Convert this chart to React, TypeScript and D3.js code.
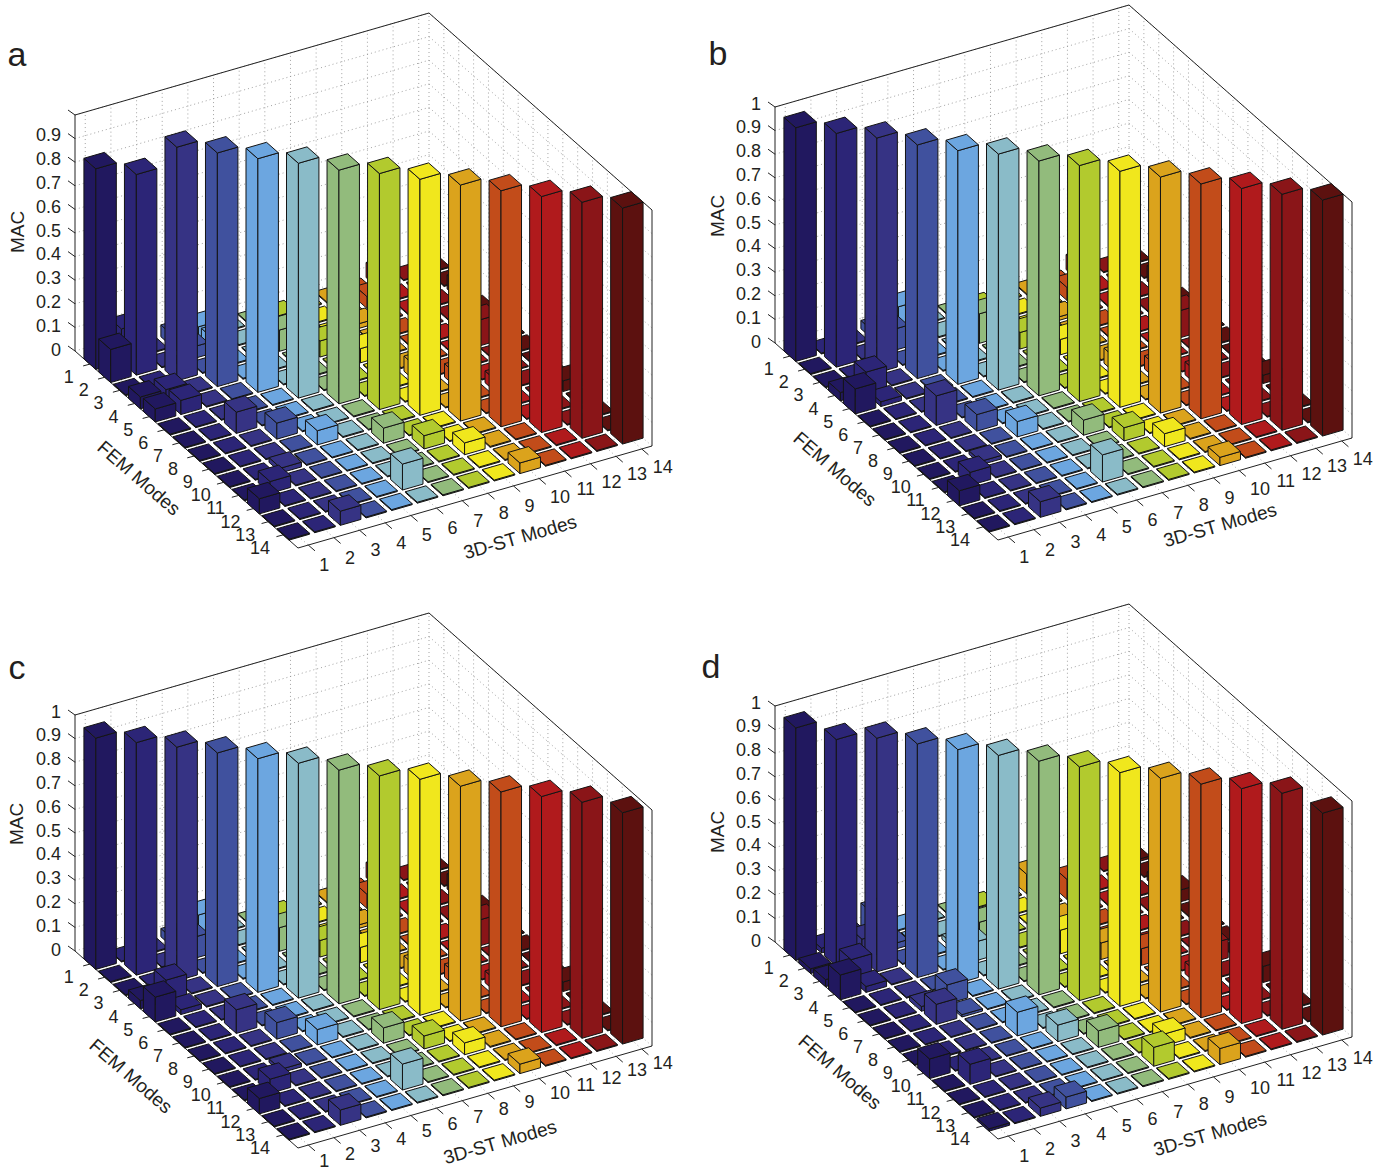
import * as d3 from 'd3';

const modes = d3.range(1, 15);
const macTicks = d3.range(0, 11).map((d) => d / 10);
const modeColours = ['#21185f', '#2c2577', '#363384', '#40519e', '#6ca6e0', '#8abbc8', '#92bb7c', '#b2ca2e', '#f0e71d', '#dba31c', '#c24c1a', '#b01a1c', '#8a1518', '#5c110f'];

// diagonal MAC values, 3D-ST mode 1..14
const diagA = [0.85, 0.85, 0.99, 0.99, 0.99, 0.995, 0.99, 1, 1, 1, 1, 1, 1, 1];
const diagB = [0.99, 0.99, 0.995, 0.99, 0.99, 1, 0.995, 1, 1, 1, 0.995, 1, 1, 1];
const diagC = [0.98, 0.985, 0.99, 0.99, 0.99, 0.995, 0.99, 0.99, 1, 0.995, 0.995, 1, 1, 0.98];
const diagD = [0.985, 0.96, 0.99, 0.99, 0.99, 0.99, 0.99, 0.99, 0.99, 0.99, 0.99, 0.995, 1, 0.94];

// off-diagonal values that stand out: [3D-ST mode, FEM mode, MAC]
const raisedA = [[1, 2, 0.14], [1, 4, 0.05], [1, 5, 0.055], [2, 4, 0.05], [2, 5, 0.06], [3, 7, 0.09], [4, 8, 0.068], [5, 9, 0.06], [7, 10, 0.064], [6, 13, 0.11], [2, 11, 0.05], [1, 12, 0.064], [3, 14, 0.06], [3, 10, 0.02], [8, 11, 0.056], [9, 12, 0.05], [10, 14, 0.045]];
const raisedB = [[1, 4, 0.035], [1, 5, 0.106], [2, 4, 0.09], [2, 5, 0.02], [3, 7, 0.125], [4, 8, 0.07], [5, 9, 0.065], [7, 10, 0.064], [6, 13, 0.115], [3, 10, 0.015], [2, 11, 0.055], [1, 12, 0.064], [3, 14, 0.066], [8, 11, 0.056], [9, 12, 0.055], [10, 14, 0.035]];
const raisedC = [[1, 4, 0.035], [1, 5, 0.105], [2, 4, 0.09], [2, 5, 0.02], [3, 7, 0.1], [4, 8, 0.07], [5, 9, 0.065], [7, 10, 0.065], [6, 13, 0.11], [2, 11, 0.06], [1, 12, 0.065], [3, 14, 0.065], [3, 10, 0.015], [8, 11, 0.055], [9, 12, 0.05], [10, 14, 0.04]];
const raisedD = [[1, 2, 0.02], [1, 3, 0.03], [1, 4, 0.105], [2, 3, 0.083], [2, 4, 0.025], [3, 6, 0.02], [3, 7, 0.085], [4, 6, 0.08], [4, 7, 0.01], [5, 9, 0.1], [6, 10, 0.07], [7, 11, 0.07], [1, 10, 0.083], [2, 11, 0.085], [3, 14, 0.035], [4, 14, 0.05], [1, 14, 0.01], [8, 13, 0.08], [9, 12, 0.05], [10, 14, 0.068]];

const floorValue = 0.004;

const panels = [
  { name: 'a', dx: 0, dy: 0, diag: diagA, raised: raisedA, topTick: 0.9, stDy: 0, letter: [17, 54], mac: [17, 232], fem: [139, 478], st: [520, 537] },
  { name: 'b', dx: 700, dy: -8, diag: diagB, raised: raisedB, topTick: 1, stDy: 0, letter: [718, 53], mac: [717, 216], fem: [835, 469], st: [1220, 525] },
  { name: 'c', dx: 0, dy: 600, diag: diagC, raised: raisedC, topTick: 1, stDy: -4, letter: [17, 667], mac: [16, 824], fem: [131, 1076], st: [500, 1142] },
  { name: 'd', dx: 700, dy: 591, diag: diagD, raised: raisedD, topTick: 1, stDy: 0, letter: [711, 666], mac: [717, 832], fem: [840, 1072], st: [1210, 1134] },
];

const font = '"Liberation Sans", Arial, sans-serif';
const ink = '#231f20';
const halfBar = 0.4;

const colour = d3.scaleOrdinal<number, string>().domain(modes).range(modeColours);
const sx = d3.scaleLinear().domain([0.6, 14.4]).range([0, 1]);
const sy = d3.scaleLinear().domain([0, 15]).range([0, 1]);
const sz = d3.scaleLinear().domain([0, 1]).range([0, 236]);

function project(c: number, r: number, z: number, p: { dx: number; dy: number }): [number, number] {
  return [
    75 + p.dx + sx(c) * 354 + sy(r) * 223,
    351 + p.dy - sx(c) * 102 + sy(r) * 197 - sz(z),
  ];
}

const line = d3.line();

function Bar({ c, r, h, p }: any) {
  const l = c - halfBar;
  const n = c + halfBar;
  const b = r - halfBar;
  const f = r + halfBar;
  const faces = [
    [[l, b, 0], [l, f, 0], [l, f, h], [l, b, h]],
    [[l, f, 0], [n, f, 0], [n, f, h], [l, f, h]],
    [[l, b, h], [l, f, h], [n, f, h], [n, b, h]],
  ];
  return (
    <g fill={colour(c)} stroke="#141414" strokeWidth={1} strokeLinejoin="round">
      {faces.map((face, i) => (
        <path key={i} d={`${line(face.map((q) => project(q[0], q[1], q[2], p)))}Z`} />
      ))}
    </g>
  );
}

function Panel({ p }: any) {
  const values = new Map<string, number>();
  p.raised.forEach(([c, r, h]: number[]) => {
    values.set(`${c}-${r}`, h);
    values.set(`${r}-${c}`, h);
  });
  p.diag.forEach((h: number, i: number) => values.set(`${i + 1}-${i + 1}`, h));

  const seg = (a: [number, number], b: [number, number]) => ({ x1: a[0], y1: a[1], x2: b[0], y2: b[1] });
  const xLo = 0.6;
  const xHi = 14.4;
  const yLo = 0;
  const yHi = 15;

  const gridLines = [
    ...macTicks.map((t) => seg(project(xLo, yLo, t, p), project(xHi, yLo, t, p))),
    ...macTicks.map((t) => seg(project(xHi, yLo, t, p), project(xHi, yHi, t, p))),
    ...modes.map((m) => seg(project(m, yLo, 0, p), project(m, yLo, 1, p))),
    ...modes.map((m) => seg(project(xHi, m, 0, p), project(xHi, m, 1, p))),
    ...modes.map((m) => seg(project(m, yLo, 0, p), project(m, yHi, 0, p))),
    ...modes.map((m) => seg(project(xLo, m, 0, p), project(xHi, m, 0, p))),
    seg(project(xHi, yLo, 0, p), project(xHi, yLo, 1, p)),
  ];

  const boxLines = [
    seg(project(xLo, yLo, 0, p), project(xLo, yLo, 1, p)),
    seg(project(xLo, yLo, 1, p), project(xHi, yLo, 1, p)),
    seg(project(xHi, yLo, 1, p), project(xHi, yHi, 1, p)),
    seg(project(xHi, yHi, 1, p), project(xHi, yHi, 0, p)),
    seg(project(xLo, yLo, 0, p), project(xLo, yHi, 0, p)),
    seg(project(xLo, yHi, 0, p), project(xHi, yHi, 0, p)),
  ];

  const bars: { c: number; r: number; h: number }[] = [];
  [...modes].reverse().forEach((c) => {
    modes.forEach((r) => {
      bars.push({ c, r, h: values.get(`${c}-${r}`) ?? floorValue });
    });
  });

  const [zx] = project(xLo, yLo, 0, p);
  return (
    <g>
      {gridLines.map((l, i) => (
        <line key={i} {...l} stroke="#8c8c8c" strokeWidth={0.8} strokeDasharray="1 3" />
      ))}
      {boxLines.map((l, i) => (
        <line key={i} {...l} stroke="#222" strokeWidth={1} />
      ))}
      {macTicks.map((t) => {
        const [x, y] = project(xLo, yLo, t, p);
        return <line key={t} x1={x} y1={y} x2={x - 7} y2={y - 5} stroke="#222" strokeWidth={1} />;
      })}
      {modes.map((m) => {
        const [x, y] = project(xLo, m, 0, p);
        return <line key={m} x1={x} y1={y} x2={x - 6.7} y2={y + 1.8} stroke="#222" strokeWidth={1} />;
      })}
      {modes.map((m) => {
        const [x, y] = project(m, yHi, 0, p);
        return <line key={m} x1={x} y1={y} x2={x + 6.7} y2={y + 5.8} stroke="#222" strokeWidth={1} />;
      })}
      {bars.map((b) => (
        <Bar key={`${b.c}-${b.r}`} {...b} p={p} />
      ))}
      <g fontFamily={font} fontSize={18} fill={ink}>
        {macTicks.filter((t) => t <= p.topTick).map((t) => {
          const [, y] = project(xLo, yLo, t, p);
          return (
            <text key={t} x={zx - 14} y={y - 1.5 - 2 * t} textAnchor="end" dominantBaseline="central">
              {d3.format('.1~f')(t)}
            </text>
          );
        })}
        {modes.map((m) => {
          const [x, y] = project(xLo, m, 0, p);
          return (
            <text key={m} x={x - (m < 10 ? 21 : 23)} y={y + 13} textAnchor="middle" dominantBaseline="central">
              {m}
            </text>
          );
        })}
        {modes.map((m) => {
          const [x, y] = project(m, yHi, 0, p);
          return (
            <text key={m} x={x + (m < 10 ? 16 : 21)} y={y + (m < 10 ? 20 : 18) + p.stDy} textAnchor="middle" dominantBaseline="central">
              {m}
            </text>
          );
        })}
      </g>
      <g fontFamily={font} fontSize={19} fill={ink}>
        <text transform={`translate(${p.mac[0]},${p.mac[1]}) rotate(-90)`} textAnchor="middle" dominantBaseline="central">MAC</text>
        <text transform={`translate(${p.fem[0]},${p.fem[1]}) rotate(41)`} textAnchor="middle" dominantBaseline="central">FEM Modes</text>
        <text transform={`translate(${p.st[0]},${p.st[1]}) rotate(-16)`} textAnchor="middle" dominantBaseline="central">3D-ST Modes</text>
      </g>
      <text x={p.letter[0]} y={p.letter[1]} fontFamily={font} fontSize={34} fill={ink} textAnchor="middle" dominantBaseline="central">
        {p.name}
      </text>
    </g>
  );
}

export default function App() {
  return (
    <svg width={1386} height={1168} style={{ position: 'absolute', left: 0, top: 0, background: '#fff' }}>
      {panels.map((p) => (
        <Panel key={p.name} p={p} />
      ))}
    </svg>
  );
}
